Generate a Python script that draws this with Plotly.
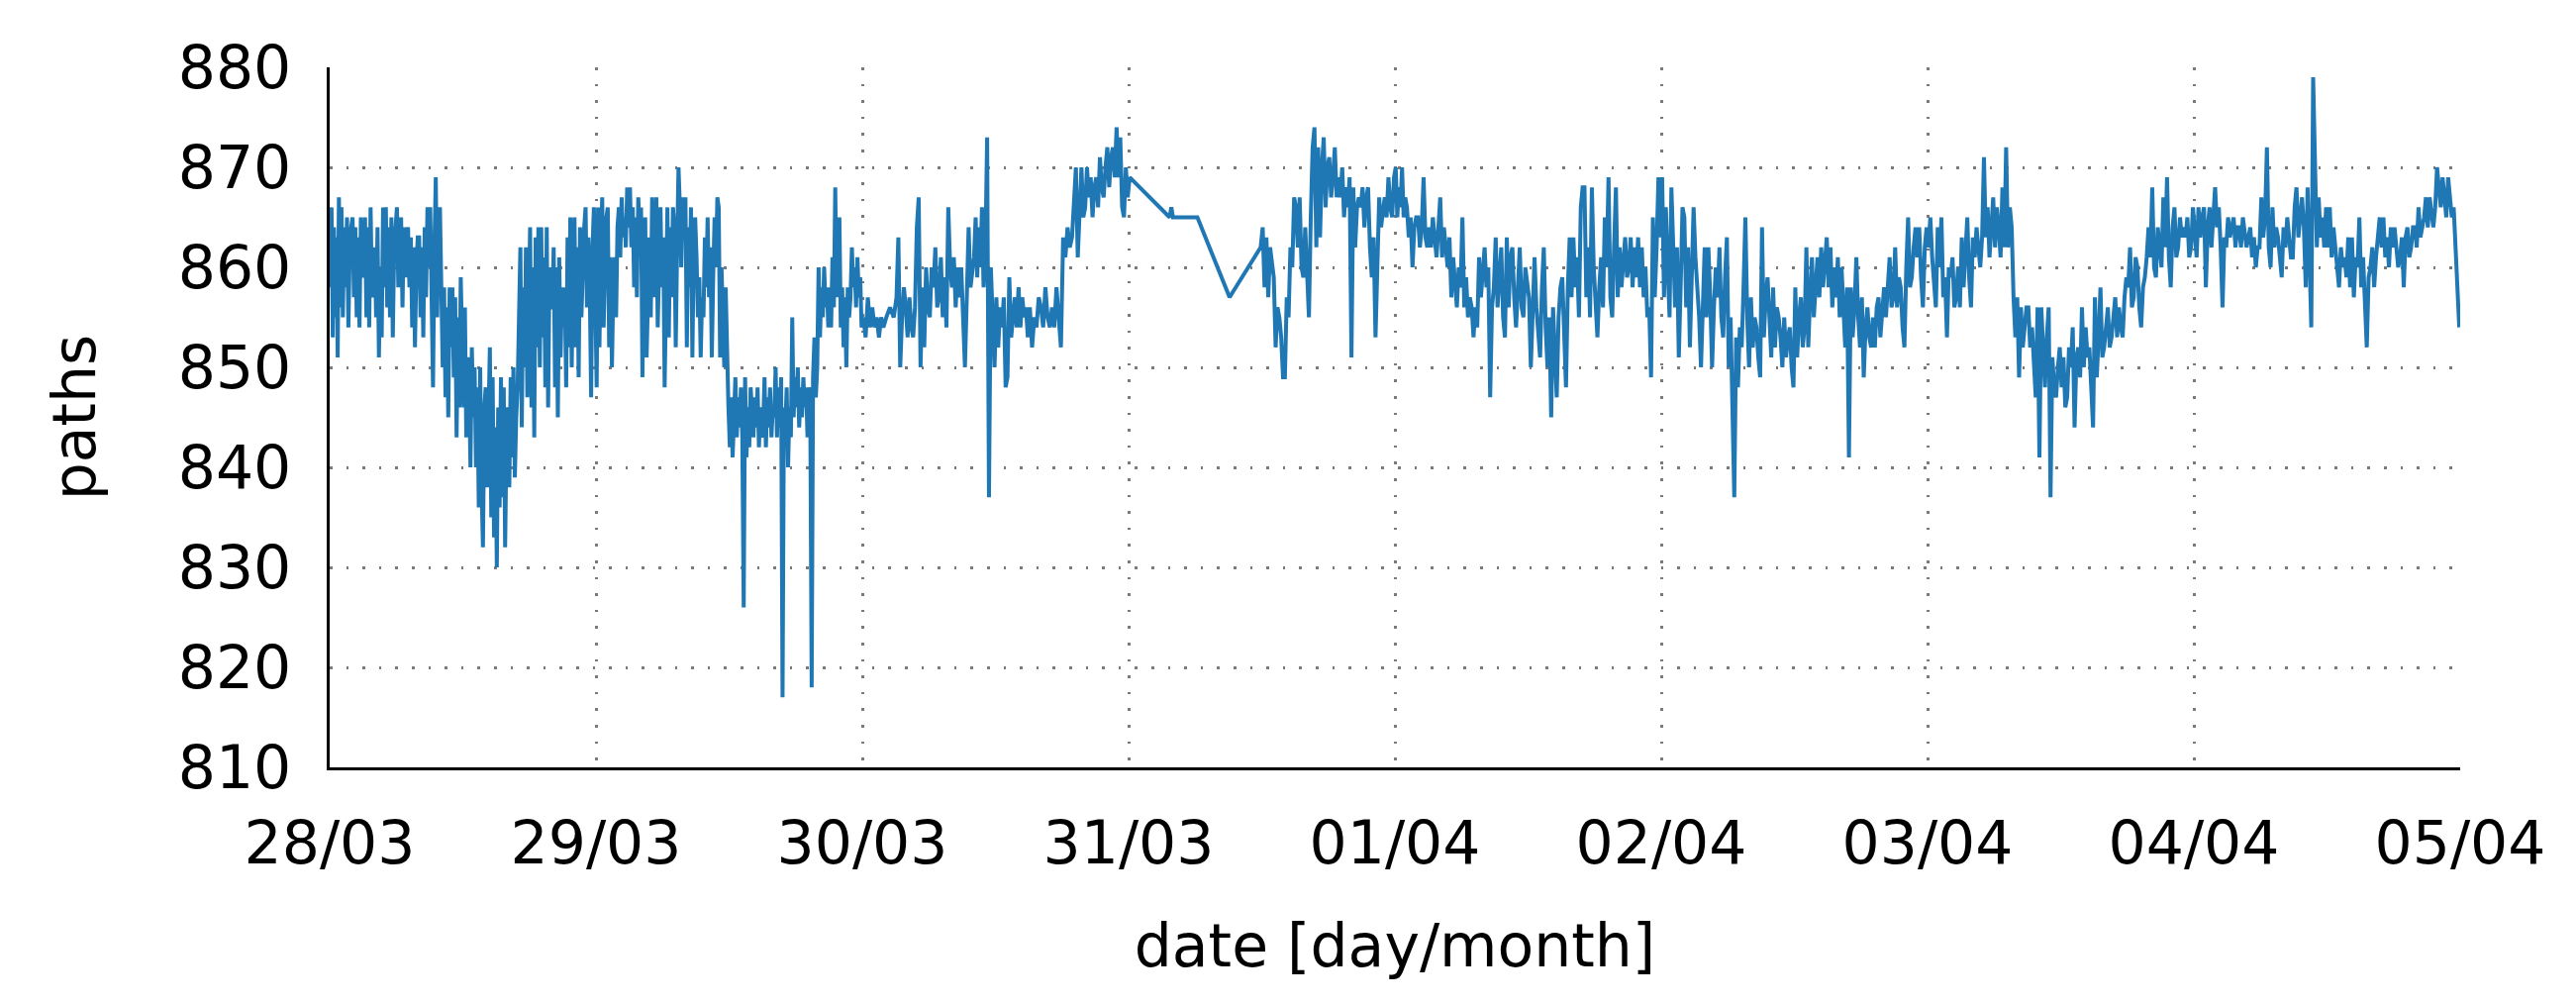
import plotly.graph_objects as go
from datetime import datetime, timedelta

# ---------------- data ----------------
# Each day: list of hourly groups (values sampled within that hour)
day_28_03 = [
    [858, 866, 853, 864, 855, 863, 851, 867, 856],
    [866, 855, 864, 858, 865, 854, 862, 864],
    [865, 857, 864, 855, 863, 854, 865, 860],
    [859, 865, 855, 864, 854, 866, 857, 858],
    [862, 855, 864, 851, 860, 853, 866, 858],
    [866, 856, 864, 855, 865, 853, 862, 864],
    [866, 858, 862, 865, 856, 864, 859, 863],
    [864, 858, 863, 854, 862, 852, 860, 863],
    [863, 855, 862, 853, 864, 857, 866, 860],
    [866, 852, 848, 862, 869, 855, 864, 866],
    [860, 850, 858, 847, 856, 845, 858, 852],
    [858, 849, 857, 843, 855, 846, 859, 850],
    [846, 856, 843, 851, 849, 840, 852, 845],
    [850, 840, 848, 836, 850, 838, 832, 846],
    [848, 838, 846, 852, 835, 849, 833, 844],
    [830, 846, 836, 849, 837, 848, 832, 843],
    [846, 838, 849, 841, 850, 839, 845, 848],
    [855, 862, 844, 858, 850, 862, 847, 860],
    [864, 846, 860, 843, 863, 852, 864, 850],
    [864, 853, 861, 848, 864, 846, 860, 856],
    [856, 862, 848, 860, 845, 861, 851, 858],
    [854, 858, 848, 863, 852, 865, 850, 860],
    [865, 852, 862, 849, 864, 855, 860, 864],
    [866, 856, 863, 858, 847, 862, 866, 859],
]
day_29_03 = [
    [848, 866, 852, 862, 867, 854, 860, 865],
    [866, 852, 861, 850, 858, 861, 855, 864],
    [866, 861, 867, 863, 865, 862, 868, 864],
    [868, 862, 866, 858, 865, 857, 867, 863],
    [866, 849, 862, 865, 851, 860, 863, 855],
    [867, 857, 864, 867, 854, 862, 866, 858],
    [863, 848, 860, 866, 853, 864, 857, 866],
    [864, 852, 862, 870, 866, 860, 867, 864],
    [867, 852, 864, 858, 866, 851, 862, 865],
    [861, 855, 859, 851, 857, 855, 863, 858],
    [865, 857, 862, 851, 859, 865, 860, 867],
    [866, 851, 860, 856, 850, 858, 849, 846],
    [842, 847, 841, 846, 849, 843, 847, 844],
    [848, 843, 826, 849, 841, 846, 842, 848],
    [846, 843, 847, 844, 848, 842, 846, 843],
    [844, 849, 842, 847, 844, 848, 843, 846],
    [845, 850, 843, 848, 844, 849, 817, 846],
    [844, 848, 840, 846, 843, 855, 845, 849],
    [846, 850, 844, 848, 845, 849, 846, 848],
    [843, 848, 846, 818, 849, 853, 847, 850],
    [860, 853, 858, 855, 860, 856, 858, 854],
    [858, 854, 861, 856, 868, 857, 863, 865],
    [854, 858, 852, 857, 850, 858, 855, 857],
    [862, 858, 860, 856, 861, 857, 859, 854],
]
day_30_03 = [
    [855, 853, 857, 854, 856],
    [854, 855, 853, 855, 854],
    [855, 856, 855],
    [857, 863, 850, 855, 858, 856],
    [853, 857, 854, 853, 856, 864],
    [867, 850, 858, 852, 860, 856],
    [855, 860, 858, 862, 856, 857],
    [861, 855, 859, 854, 866, 860],
    [858, 861, 856, 860, 857, 860],
    [855, 850, 857, 864, 858, 860],
    [861, 865, 859, 864, 860, 866, 858],
    [861, 873, 837, 860, 855, 850],
    [857, 852, 856, 854, 857, 848],
    [849, 859, 853, 855, 857, 854],
    [858, 854, 857, 855, 856, 853],
    [856, 852, 855, 854, 857],
    [856, 854, 858, 855, 854],
    [856, 854, 858, 855, 852],
    [863, 861, 864, 862, 863],
    [867, 870, 861, 866, 870, 865],
    [866, 870, 867, 869, 865, 868],
    [869, 866, 871, 868, 867, 870],
    [872, 868, 871, 872, 869, 874],
    [869, 873, 866, 865, 870, 867],
]
# sparse measurements on the morning of 31/03
gap_times = ["2017-03-31 00:06", "2017-03-31 03:42", "2017-03-31 03:51",
             "2017-03-31 04:00", "2017-03-31 06:12", "2017-03-31 09:06",
             "2017-03-31 11:54"]
gap_values = [869, 865, 866, 865, 865, 857, 862]
# 31/03 from 12:00 onwards
day_31_03_pm = [
    [864, 858, 863, 857, 862, 860],
    [859, 852, 856, 855, 853, 849],
    [849, 857, 855, 862, 860, 867],
    [866, 862, 867, 860, 859, 864],
    [860, 855, 865, 872, 874, 862],
    [872, 863, 870, 873, 866, 870],
    [871, 867, 869, 872, 867, 869],
    [867, 870, 865, 868, 866, 869],
    [851, 868, 862, 866, 867, 866],
    [868, 864, 867, 868, 862, 859],
    [863, 853, 860, 867, 864, 866],
    [867, 865, 869, 866, 865, 869],
]
day_01_04 = [
    [870, 865, 868, 866, 870, 865, 867],
    [866, 863, 865, 860, 864, 865],
    [865, 862, 864, 869, 863, 862],
    [864, 862, 865, 863, 861, 864],
    [867, 861, 864, 862, 860, 863],
    [857, 861, 858, 856, 860, 858],
    [865, 856, 859, 855, 857, 856],
    [853, 856, 854, 861, 857, 859],
    [862, 858, 860, 847, 856, 858],
    [863, 856, 860, 862, 855, 853],
    [863, 856, 861, 862, 857, 854],
    [858, 862, 856, 855, 860, 858],
    [857, 850, 855, 861, 856, 853],
    [851, 858, 862, 854, 850, 855],
    [845, 856, 852, 847, 855, 858],
    [859, 853, 848, 858, 863, 857],
    [863, 858, 861, 855, 866, 868],
    [868, 857, 862, 855, 868, 860],
    [857, 853, 858, 861, 856, 865],
    [860, 869, 857, 855, 862, 868],
    [857, 862, 858, 860, 863, 859],
    [860, 863, 858, 862, 859, 863],
    [858, 862, 857, 860, 855, 856],
    [849, 865, 857, 862, 869, 863],
]
day_02_04 = [
    [869, 857, 866, 860, 855, 868],
    [863, 856, 862, 851, 858, 866],
    [865, 856, 862, 852, 859, 866],
    [861, 858, 855, 850, 857, 862],
    [855, 862, 857, 850, 856, 860],
    [857, 862, 855, 853, 859, 863],
    [850, 855, 846, 837, 853, 848],
    [854, 852, 858, 865, 855, 850],
    [857, 852, 855, 854, 851, 849],
    [864, 853, 857, 859, 855, 851],
    [858, 852, 856, 855, 853, 850],
    [855, 851, 853, 854, 850, 848],
    [858, 851, 855, 857, 852, 854],
    [862, 852, 857, 861, 855, 858],
    [861, 857, 862, 858, 860, 863],
    [858, 862, 856, 860, 857, 861],
    [855, 860, 856, 852, 858, 841],
    [858, 853, 856, 861, 855, 852],
    [857, 849, 854, 856, 853, 852],
    [855, 852, 856, 857, 853, 855],
    [858, 855, 859, 861, 856, 857],
    [862, 856, 859, 858, 854, 852],
    [860, 865, 858, 859, 862, 864],
    [861, 864, 859, 856, 862, 864],
]
day_03_04 = [
    [862, 865, 861, 858, 856, 864],
    [860, 865, 857, 859, 853, 860],
    [859, 861, 856, 857, 860, 856],
    [863, 858, 861, 865, 859, 856],
    [863, 861, 864, 862, 860, 863],
    [871, 863, 866, 861, 864, 867],
    [862, 866, 864, 861, 868, 862],
    [872, 862, 866, 864, 857, 853],
    [857, 849, 856, 852, 854, 856],
    [856, 852, 854, 850, 847, 856],
    [841, 856, 851, 848, 853, 856],
    [837, 851, 848, 847, 850, 852],
    [848, 851, 846, 847, 852, 850],
    [854, 844, 851, 852, 849, 856],
    [850, 854, 851, 852, 848, 844],
    [857, 849, 853, 858, 851, 852],
    [854, 856, 852, 853, 855, 857],
    [853, 856, 854, 853, 857, 859],
    [858, 862, 856, 857, 861, 860],
    [856, 854, 858, 859, 861, 864],
    [861, 868, 860, 859, 864, 862],
    [860, 867, 862, 869, 861, 858],
    [864, 866, 861, 862, 865, 863],
    [864, 863, 865, 861, 862, 866],
]
day_04_04 = [
    [864, 861, 866, 863, 865, 866],
    [858, 864, 866, 862, 865, 868],
    [864, 866, 862, 856, 863, 862],
    [865, 863, 864, 865, 862, 864],
    [864, 862, 865, 863, 862, 863],
    [864, 861, 863, 860, 862, 862],
    [867, 863, 865, 872, 862, 860],
    [866, 862, 864, 863, 861, 859],
    [864, 862, 865, 863, 861, 861],
    [866, 868, 863, 865, 867, 864],
    [858, 868, 862, 854, 879, 869],
    [862, 867, 863, 865, 862, 866],
    [862, 866, 861, 864, 862, 859],
    [858, 862, 860, 861, 859, 863],
    [858, 863, 857, 861, 860, 865],
    [858, 861, 856, 852, 859, 860],
    [862, 858, 861, 863, 865, 862],
    [865, 861, 863, 860, 864, 862],
    [864, 862, 860, 861, 863, 858],
    [863, 864, 861, 862, 864, 864],
    [862, 866, 863, 864, 865, 867],
    [864, 867, 865, 864, 866, 870],
    [868, 866, 869, 867, 865, 869],
    [867, 865, 866, 862, 858, 854],
]

x_range = ["2017-03-28 00:00", "2017-04-05 00:00"]
y_range = [810, 880]

# ---------------- assemble the series ----------------
xs, ys = [], []


def add_day(date_str, groups, first_hour=0):
    base = datetime.strptime(date_str, "%Y-%m-%d")
    for h, vals in enumerate(groups):
        n = len(vals)
        for i, v in enumerate(vals):
            t = base + timedelta(hours=first_hour + h + (i + 0.5) / n)
            xs.append(t)
            ys.append(v)


add_day("2017-03-28", day_28_03)
add_day("2017-03-29", day_29_03)
add_day("2017-03-30", day_30_03)
for t, v in zip(gap_times, gap_values):
    xs.append(datetime.strptime(t, "%Y-%m-%d %H:%M"))
    ys.append(v)
add_day("2017-03-31", day_31_03_pm, first_hour=12)
add_day("2017-04-01", day_01_04)
add_day("2017-04-02", day_02_04)
add_day("2017-04-03", day_03_04)
add_day("2017-04-04", day_04_04)

fig = go.Figure(
    go.Scatter(x=xs, y=ys, mode="lines",
               line=dict(color="#1f77b4", width=4.0))
)

FONT = "DejaVu Sans"
grid = dict(showgrid=True, gridcolor="#7a7a7a", gridwidth=2.6,
            griddash="2.6px,14px", zeroline=False)

# the page body adds an 8 px offset; the figure is sized to fit the window
fig.update_layout(
    width=2594, height=1007,
    margin=dict(l=325, r=117, t=60, b=240, autoexpand=False),
    paper_bgcolor="white", plot_bgcolor="white",
    font=dict(family=FONT, size=60, color="black"),
    showlegend=False,
)
fig.update_xaxes(
    range=x_range, type="date", tick0="2017-03-28", dtick=86400000,
    tickformat="%d/%m", ticks="", ticklabelstandoff=22,
    showline=True, linecolor="black", linewidth=2.5,
    title=dict(text="date [day/month]", standoff=50,
               font=dict(family=FONT, size=60)),
    automargin=False, **grid,
)
fig.update_yaxes(
    range=y_range, dtick=10, ticks="", ticklabelstandoff=24,
    showline=True, linecolor="black", linewidth=2.5,
    title=dict(text="paths", standoff=64,
               font=dict(family=FONT, size=60)),
    automargin=False, **grid,
)

fig.write_html("out.html")
